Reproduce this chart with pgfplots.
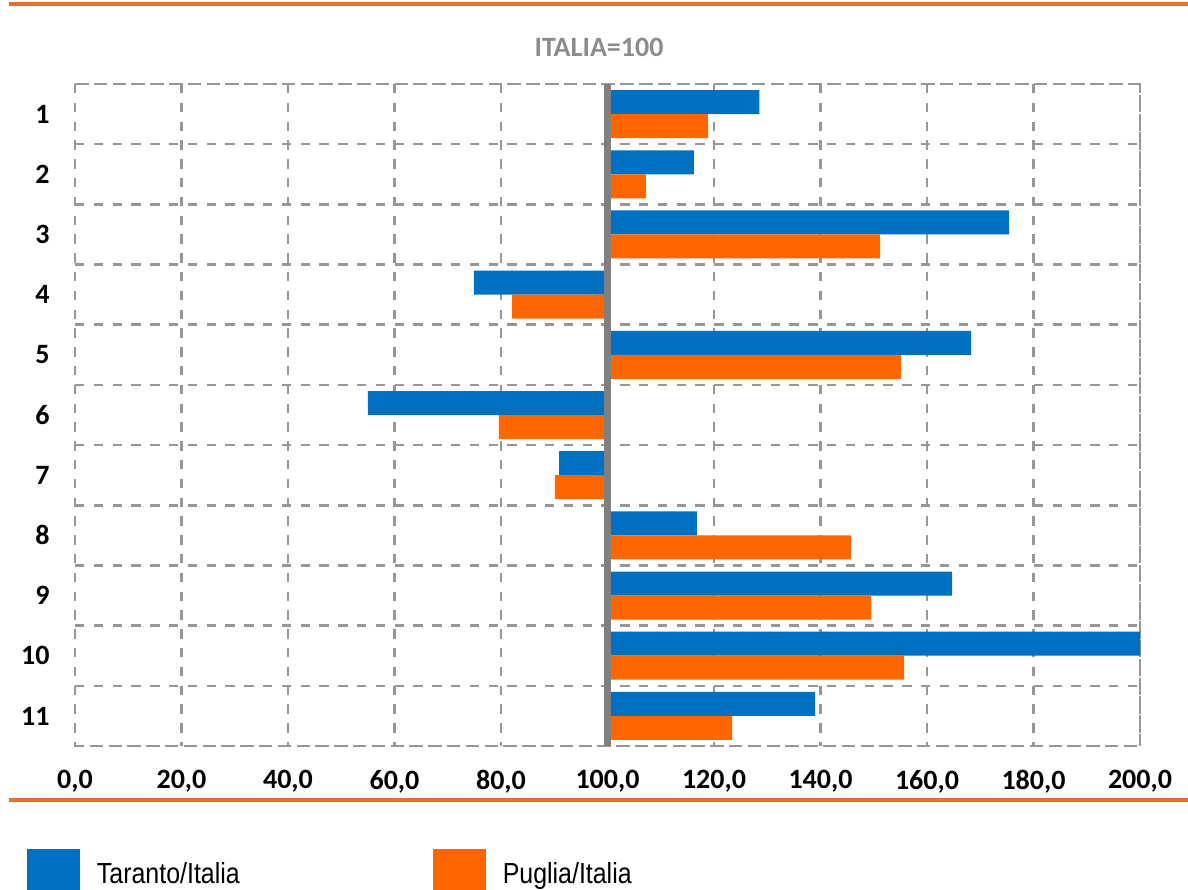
\documentclass[border=0pt]{standalone}
\usepackage{pgfplots}
\pgfplotsset{compat=1.18}
\usepackage{pgfplotstable}
\usepackage{fontspec}
\setmainfont{Carlito}
\newfontfamily\legfont[FakeStretch=0.86]{Liberation Sans}

\definecolor{tblue}{HTML}{0070C0}
\definecolor{porange}{HTML}{FF6600}
\definecolor{rulecol}{HTML}{E8702A}
\definecolor{gridgray}{HTML}{979797}
\definecolor{axisgray}{HTML}{808080}
\definecolor{titlegray}{HTML}{8C8C8C}

% values relative to Italia=100
\pgfplotstableread{
cat taranto puglia
1   128.5   118.9
2   116.2   107.2
3   175.4   151.2
4   74.9    82.1
5   168.3   155.1
6   55.0    79.6
7   90.9    90.1
8   116.8   145.7
9   164.7   149.5
10  200.0   155.7
11  139.0   123.4
}\indici

\begin{document}
\begin{tikzpicture}
\useasboundingbox (0pt,0pt) rectangle (594pt,444.5pt);
\fill[rulecol] (4.5pt,441.5pt) rectangle (594pt,443.5pt);
\fill[rulecol] (4.5pt,43.5pt) rectangle (594pt,45.5pt);
\node[text=titlegray,font=\bfseries\fontsize{14}{16}\selectfont] at (299.5pt,421pt) {ITALIA=100};
\begin{axis}[
    at={(37.5pt,71.5pt)},anchor=south west,
    scale only axis,width=532.5pt,height=331pt,
    xbar,bar width=12pt,
    xmin=-100,xmax=100,ymin=0.5,ymax=11.5,
    y dir=reverse,
    xtick={-100,-80,...,100},
    xticklabels={{0,0},{20,0},{40,0},{60,0},{80,0},{100,0},{120,0},{140,0},{160,0},{180,0},{200,0}},
    ytick={1,...,11},
    minor ytick={0.5,1.5,...,11.5},
    xmajorgrids,yminorgrids,
    major grid style={gridgray,line width=1.3pt,dash pattern=on 4.7pt off 4.7pt},
    minor grid style={gridgray,line width=1.3pt,dash pattern=on 4.7pt off 4.7pt},
    axis line style={gridgray,line width=1.3pt,dash pattern=on 4.7pt off 4.7pt},
    major tick length=0pt,minor tick length=0pt,
    /pgf/number format/assume math mode=true,
    tick label style={font=\bfseries\fontsize{14}{16}\selectfont,inner sep=0pt},
    yticklabel style={anchor=east,xshift=-12.5pt},
    xticklabel style={anchor=north,yshift=-12pt},
    legend style={at={(-0.0451,-0.1556)},anchor=north west,draw=none,fill=none,
        inner sep=0pt,outer sep=0pt,font=\legfont\fontsize{14.5}{16}\selectfont,
        legend columns=2,
        /tikz/every even column/.append style={column sep=94.5pt}},
    legend image code/.code={\fill[#1] (0pt,-14pt) rectangle (26.5pt,12.5pt);\path (33pt,0pt);},
    clip=true,
]
\addplot[fill=tblue,draw=none,bar shift=6pt] table[x expr=\thisrow{taranto}-100,y=cat] {\indici};
\addplot[fill=porange,draw=none,bar shift=-6pt] table[x expr=\thisrow{puglia}-100,y=cat] {\indici};
\legend{Taranto/Italia,Puglia/Italia}
\draw[axisgray,line width=3.3pt] (axis cs:0,0.5) -- (axis cs:0,11.5);
\end{axis}
\end{tikzpicture}
\end{document}
